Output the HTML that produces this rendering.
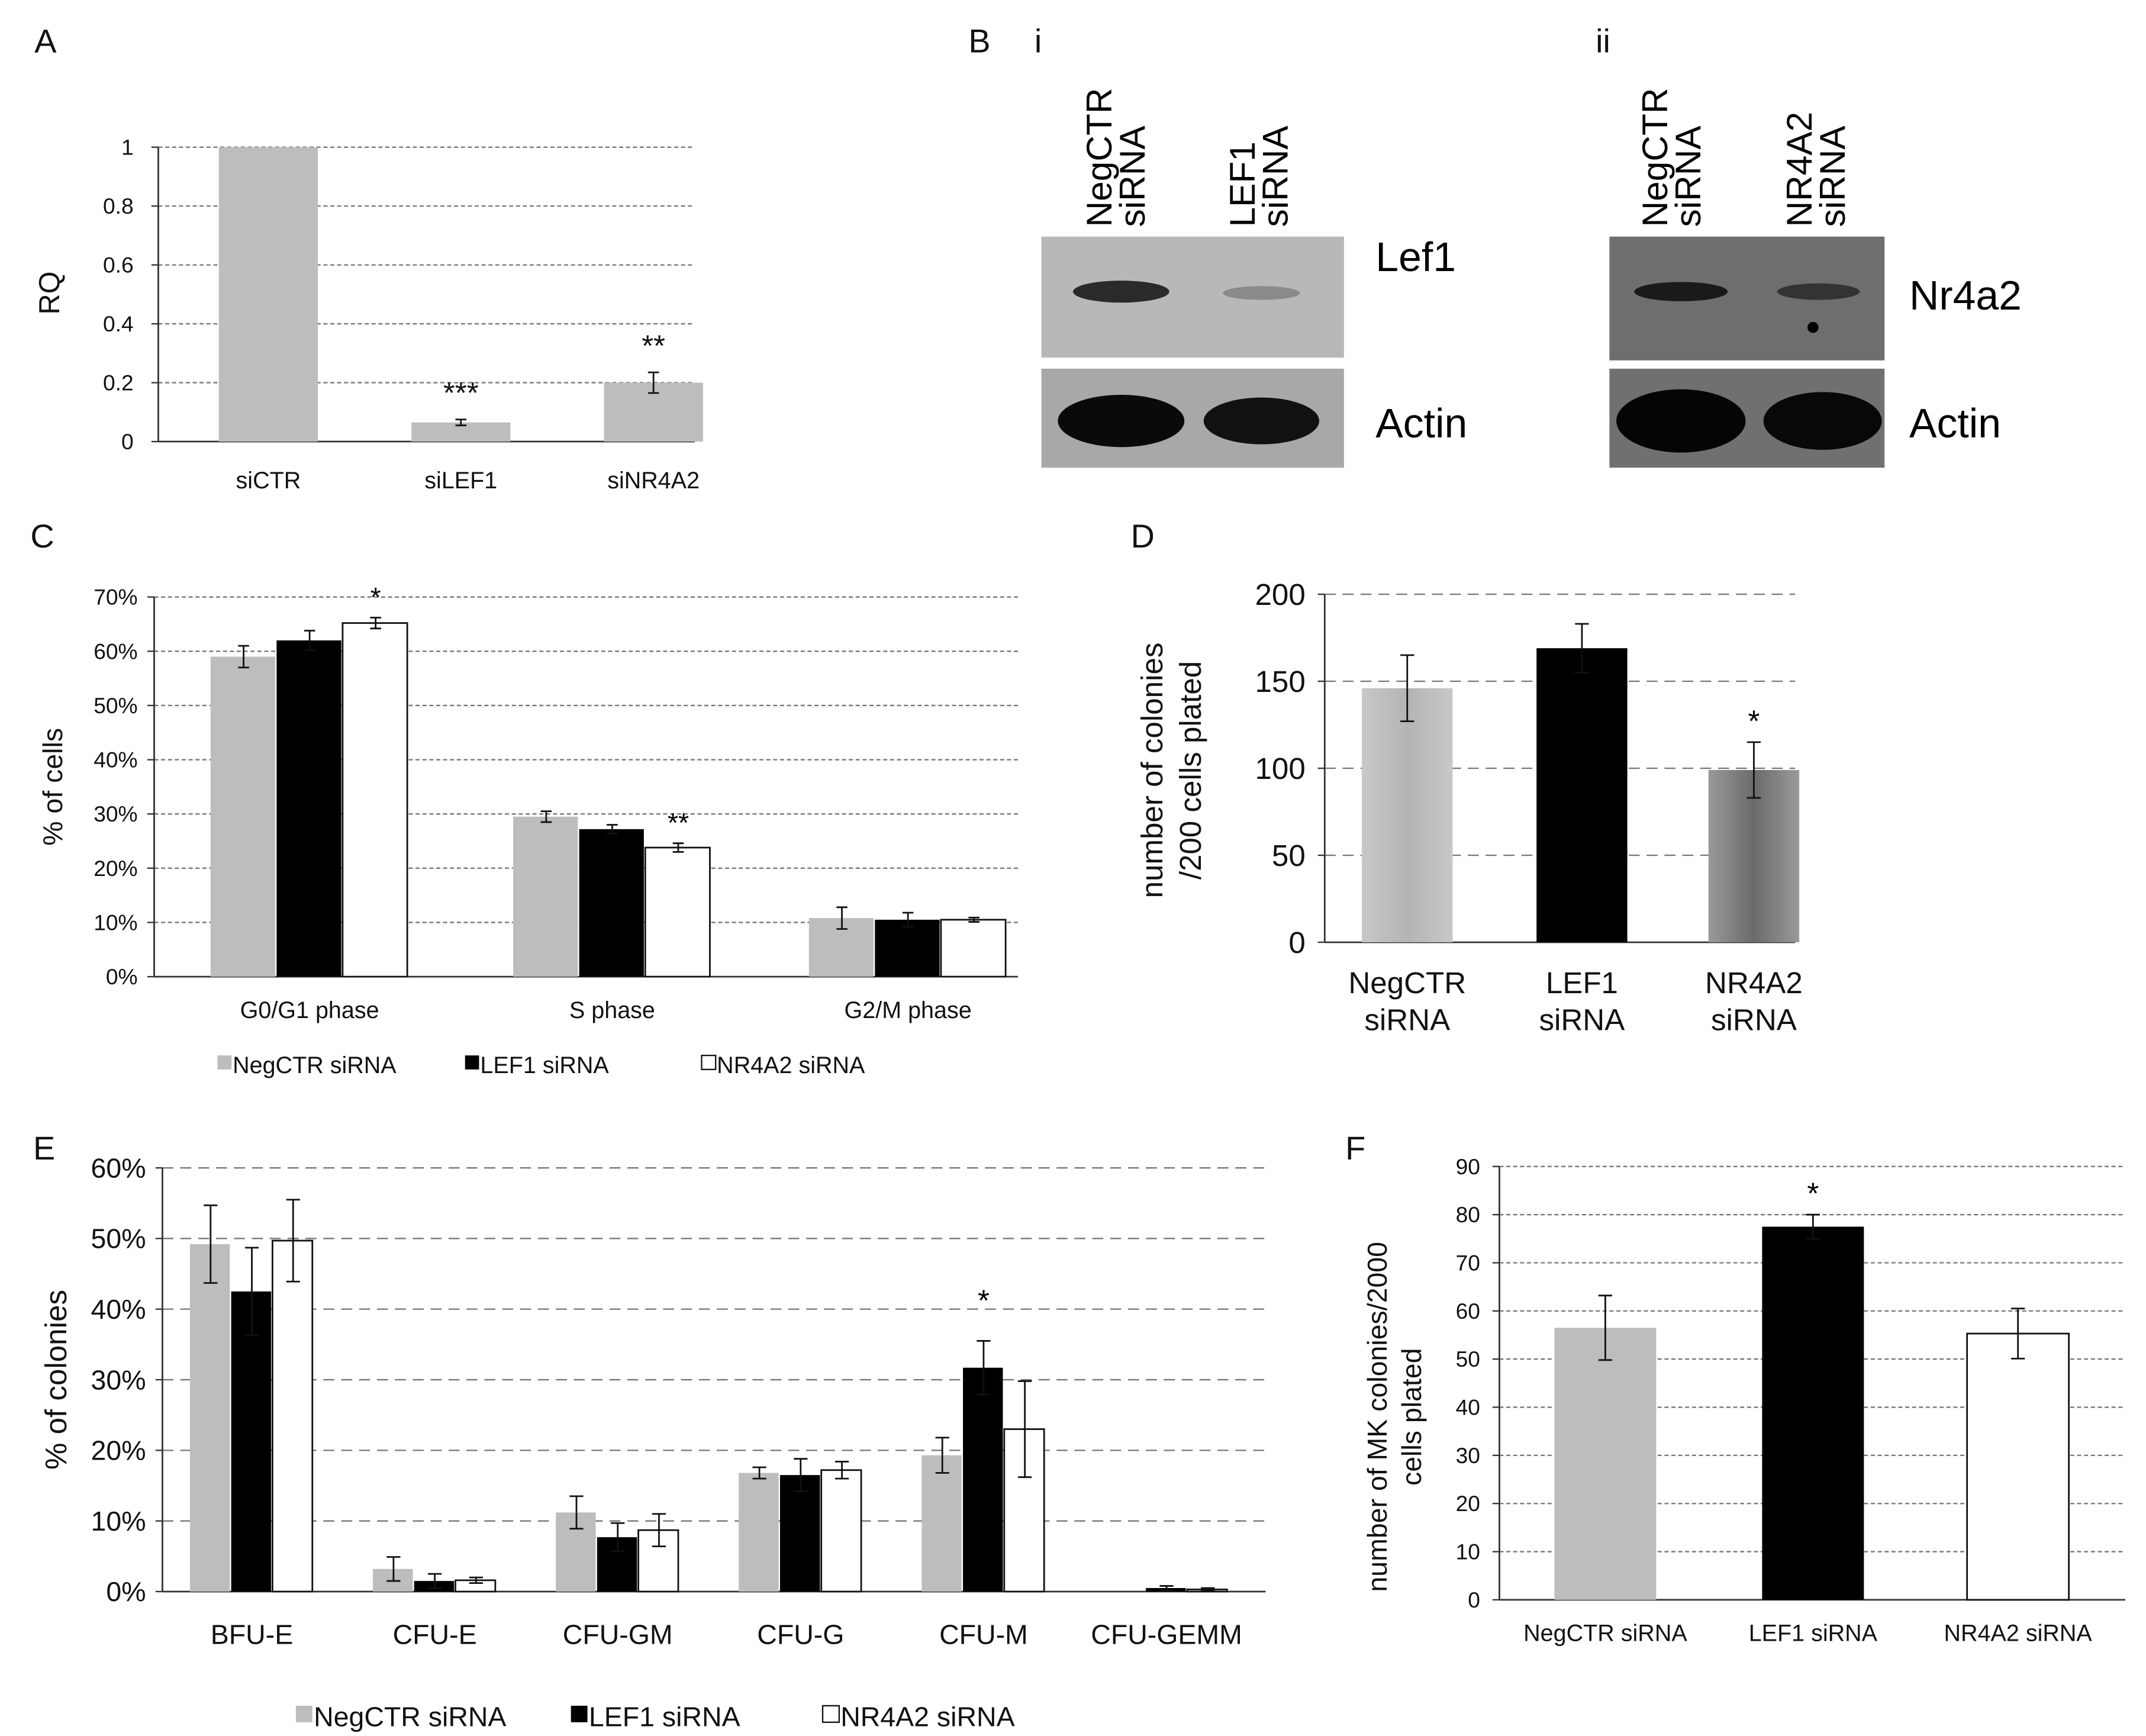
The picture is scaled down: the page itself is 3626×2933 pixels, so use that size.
<!DOCTYPE html>
<html><head><meta charset="utf-8"><style>
body{margin:0;background:#fff}
svg{display:block;font-family:"Liberation Sans",Arial,sans-serif}
</style></head><body>
<svg id="fig" width="3626" height="2933" viewBox="0 0 1560 1262" xmlns="http://www.w3.org/2000/svg">
<defs>
<linearGradient id="gD1" x1="0" x2="1"><stop offset="0" stop-color="#c8c8c8"/><stop offset="0.5" stop-color="#b4b4b4"/><stop offset="1" stop-color="#c8c8c8"/></linearGradient>
<linearGradient id="gD3" x1="0" x2="1"><stop offset="0" stop-color="#9a9a9a"/><stop offset="0.5" stop-color="#6a6a6a"/><stop offset="1" stop-color="#9a9a9a"/></linearGradient>
</defs>
<g font-size="24" fill="#111">
<text x="25" y="38">A</text>
<text x="704" y="38">B</text>
<text x="752" y="38">i</text>
<text x="1160" y="38">ii</text>
<text x="22" y="398">C</text>
<text x="822" y="398">D</text>
<text x="24" y="843">E</text>
<text x="978" y="843">F</text>
</g>
<g>
<rect x="757" y="172" width="220" height="88" fill="#b8b8b8"/>
<ellipse cx="815" cy="212" rx="35" ry="8" fill="#2a2a2a"/>
<ellipse cx="917" cy="213" rx="28" ry="5" fill="#8a8a8a"/>
<rect x="757" y="268" width="220" height="72" fill="#a8a8a8"/>
<ellipse cx="815" cy="306" rx="46" ry="19" fill="#0a0a0a"/>
<ellipse cx="917" cy="306" rx="42" ry="17" fill="#111"/>
<text transform="translate(808,165) rotate(-90)" font-size="26">NegCTR</text>
<text transform="translate(832,165) rotate(-90)" font-size="26">siRNA</text>
<text transform="translate(912,165) rotate(-90)" font-size="26">LEF1</text>
<text transform="translate(936,165) rotate(-90)" font-size="26">siRNA</text>
<text x="1000" y="197" font-size="30">Lef1</text>
<text x="1000" y="318" font-size="30">Actin</text>
</g>
<g>
<rect x="1170" y="172" width="200" height="90" fill="#6e6e6e"/>
<ellipse cx="1222" cy="212" rx="34" ry="7" fill="#1a1a1a"/>
<ellipse cx="1322" cy="212" rx="30" ry="6" fill="#333"/>
<circle cx="1318" cy="238" r="4" fill="#000"/>
<rect x="1170" y="268" width="200" height="72" fill="#707070"/>
<ellipse cx="1222" cy="306" rx="47" ry="23" fill="#050505"/>
<ellipse cx="1325" cy="306" rx="43" ry="21" fill="#080808"/>
<text transform="translate(1212,165) rotate(-90)" font-size="26">NegCTR</text>
<text transform="translate(1236,165) rotate(-90)" font-size="26">siRNA</text>
<text transform="translate(1317,165) rotate(-90)" font-size="26">NR4A2</text>
<text transform="translate(1341,165) rotate(-90)" font-size="26">siRNA</text>
<text x="1388" y="225" font-size="30">Nr4a2</text>
<text x="1388" y="318" font-size="30">Actin</text>
</g>
<g id="charts"></g>
</svg>
<script>
// Panel A data
const aCats=["siCTR","siLEF1","siNR4A2"];
const aVals=[1,0.065,0.2];
const aErr=[0,0.01,0.035];
const aTicks=[0,0.2,0.4,0.6,0.8,1];
const aStars=["","***","**"];
// Panel C data
const cCats=["G0/G1 phase","S phase","G2/M phase"];
const cNeg=[59,29.5,10.8];
const cLef=[62,27.2,10.5];
const cNr=[65.2,23.8,10.5];
const cNegErr=[2,1,2];
const cLefErr=[1.8,0.8,1.3];
const cNrErr=[1,0.8,0.4];
const cTicks=[0,10,20,30,40,50,60,70];
// Panel D data
const dCats=["NegCTR|siRNA","LEF1|siRNA","NR4A2|siRNA"];
const dVals=[146,169,99];
const dErr=[19,14,16];
const dTicks=[0,50,100,150,200];
// Panel E data
const eCats=["BFU-E","CFU-E","CFU-GM","CFU-G","CFU-M","CFU-GEMM"];
const eNeg=[49.2,3.2,11.2,16.8,19.3,0];
const eLef=[42.5,1.5,7.7,16.5,31.7,0.5];
const eNr=[49.7,1.6,8.7,17.2,23,0.3];
const eNegErr=[5.5,1.7,2.3,0.8,2.5,0];
const eLefErr=[6.2,1,2,2.3,3.8,0.3];
const eNrErr=[5.8,0.4,2.3,1.2,6.8,0.2];
const eTicks=[0,10,20,30,40,50,60];
// Panel F data
const fCats=["NegCTR siRNA","LEF1 siRNA","NR4A2 siRNA"];
const fVals=[56.5,77.5,55.3];
const fErr=[6.7,2.5,5.2];
const fTicks=[0,10,20,30,40,50,60,70,80,90];

const NS="http://www.w3.org/2000/svg";
const root=document.getElementById('charts');
function mk(tag,attrs,parent,txt){const e=document.createElementNS(NS,tag);for(const k in attrs)e.setAttribute(k,attrs[k]);if(txt!==undefined)e.textContent=txt;(parent||root).appendChild(e);return e;}
function lin(d0,d1,r0,r1){return v=>r0+(v-d0)*(r1-r0)/(d1-d0);}
function errBar(g,cx,yv,ye,cap){mk('line',{x1:cx,x2:cx,y1:yv,y2:ye[1],stroke:'#111','stroke-width':1.2},g);mk('line',{x1:cx,x2:cx,y1:yv,y2:ye[0],stroke:'#111','stroke-width':1.2},g);
 mk('line',{x1:cx-cap,x2:cx+cap,y1:ye[0],y2:ye[0],stroke:'#111','stroke-width':1.2},g);mk('line',{x1:cx-cap,x2:cx+cap,y1:ye[1],y2:ye[1],stroke:'#111','stroke-width':1.2},g);}
function axes(g,x0,x1,y,ticks,fmt,fs,dash,tx){
 ticks.forEach(t=>{const yy=y(t);
  if(t!==ticks[0]){const gl=mk('line',{x1:x0,x2:x1,y1:yy,y2:yy,stroke:'#777','stroke-width':1,'stroke-dasharray':dash},g);}
  mk('line',{x1:x0-5,x2:x0,y1:yy,y2:yy,stroke:'#333'},g);
  const l=mk('text',{x:x0-(tx||10),y:yy+fs*0.35,'text-anchor':'end','font-size':fs,fill:'#111'},g,fmt(t));
  });
 mk('line',{x1:x0,x2:x0,y1:y(ticks[0]),y2:y(ticks[ticks.length-1]),stroke:'#333','stroke-width':1.2},g);
 mk('line',{x1:x0,x2:x1,y1:y(ticks[0]),y2:y(ticks[0]),stroke:'#333','stroke-width':1.2},g);
}
function legend(g,x,y,fs,items){items.forEach(it=>{const r=mk('rect',{x:it[0],y:y-fs*0.75,width:fs*0.6,height:fs*0.6,fill:it[1],stroke:'#111','stroke-width':it[1]=='#fff'?1:0},g);
 
 const t=mk('text',{x:it[0]+fs*0.65,y:y,'font-size':fs,fill:'#111'},g,it[2]);});}

(function(){const g=mk('g',{});
 const y=lin(0,1,321,107);axes(g,115,505,y,aTicks,v=>String(v),16,'3,2',18);
 const xs=[195,335,475];
 aCats.forEach((c,i)=>{const b=mk('rect',{x:xs[i]-36,y:y(aVals[i]),width:72,height:y(0)-y(aVals[i]),fill:'#bdbdbd'},g);
  
  if(aErr[i])errBar(g,xs[i],y(aVals[i]),[y(aVals[i]+aErr[i]),y(aVals[i]-aErr[i])],4);
  const l=mk('text',{x:xs[i],y:355,'text-anchor':'middle','font-size':17,fill:'#111'},g,c);
  if(aStars[i])mk('text',{x:xs[i],y:y(aVals[i]+aErr[i])-12,'text-anchor':'middle','font-size':22,fill:'#111'},g,aStars[i]);});
 const t=mk('text',{transform:'translate(43,213) rotate(-90)','text-anchor':'middle','font-size':21,fill:'#111'},g,'RQ');
})();
(function(){const g=mk('g',{});
 const y=lin(0,70,710,434);axes(g,112,740,y,cTicks,v=>v+'%',16,'3,2',12);
 const xs=[225,445,660],w=48;const series=[[cNeg,cNegErr,'#bdbdbd'],[cLef,cLefErr,'#000'],[cNr,cNrErr,'#fff']];
 cCats.forEach((c,i)=>{series.forEach((s,j)=>{const x=xs[i]-72+j*w;const b=mk('rect',{x:x,y:y(s[0][i]),width:w-1,height:y(0)-y(s[0][i]),fill:s[2],stroke:j==2?'#111':'none','stroke-width':1.2},g);
  
  errBar(g,x+w/2,y(s[0][i]),[y(s[0][i]+s[1][i]),y(s[0][i]-s[1][i])],4);});
  const l=mk('text',{x:xs[i],y:740,'text-anchor':'middle','font-size':17,fill:'#111'},g,c);});
 mk('text',{x:xs[0]+48,y:y(cNr[0]+cNrErr[0])-8,'text-anchor':'middle','font-size':20},g,'*');
 mk('text',{x:xs[1]+48,y:y(cNr[1]+cNrErr[1])-8,'text-anchor':'middle','font-size':20},g,'**');
 const t=mk('text',{transform:'translate(45,572) rotate(-90)','text-anchor':'middle','font-size':20,fill:'#111'},g,'% of cells');
 legend(g,0,780,17,[[158,'#bdbdbd','NegCTR siRNA'],[338,'#000','LEF1 siRNA'],[510,'#fff','NR4A2 siRNA']]);
})();
(function(){const g=mk('g',{});
 const y=lin(0,200,685,432);axes(g,963,1305,y,dTicks,v=>String(v),22,'8,5',14);
 const xs=[1023,1150,1275],fills=['url(#gD1)','#000','url(#gD3)'];
 dCats.forEach((c,i)=>{const b=mk('rect',{x:xs[i]-33,y:y(dVals[i]),width:66,height:y(0)-y(dVals[i]),fill:fills[i]},g);
  
  errBar(g,xs[i],y(dVals[i]),[y(dVals[i]+dErr[i]),y(dVals[i]-dErr[i])],5);
  c.split('|').forEach((p,k)=>{const l=mk('text',{x:xs[i],y:722+k*27,'text-anchor':'middle','font-size':22,fill:'#111'},g,p);});});
 mk('text',{x:xs[2],y:y(dVals[2]+dErr[2])-8,'text-anchor':'middle','font-size':22},g,'*');
 const t=mk('text',{transform:'translate(845,560) rotate(-90)','text-anchor':'middle','font-size':22,fill:'#111'},g,'number of colonies');
 mk('text',{transform:'translate(873,560) rotate(-90)','text-anchor':'middle','font-size':22,fill:'#111'},g,'/200 cells plated');
})();
(function(){const g=mk('g',{});
 const y=lin(0,60,1157,849);axes(g,118,920,y,eTicks,v=>v+'%',20,'8,5',12);
 const x0=183,step=133,w=30;const series=[[eNeg,eNegErr,'#bdbdbd'],[eLef,eLefErr,'#000'],[eNr,eNrErr,'#fff']];
 eCats.forEach((c,i)=>{const cx=x0+i*step;series.forEach((s,j)=>{const x=cx-45+j*w;if(s[0][i]>0){const b=mk('rect',{x:x,y:y(s[0][i]),width:w-1,height:y(0)-y(s[0][i]),fill:s[2],stroke:j==2?'#111':'none','stroke-width':1.2},g);
  }
  if(s[1][i])errBar(g,x+w/2,y(s[0][i]),[y(s[0][i]+s[1][i]),y(Math.max(0,s[0][i]-s[1][i]))],5);});
  const l=mk('text',{x:cx,y:1195,'text-anchor':'middle','font-size':20,fill:'#111'},g,c);});
 mk('text',{x:x0+4*step,y:y(eLef[4]+eLefErr[4])-22,'text-anchor':'middle','font-size':22},g,'*');
 const t=mk('text',{transform:'translate(48,1003) rotate(-90)','text-anchor':'middle','font-size':22,fill:'#111'},g,'% of colonies');
 legend(g,0,1255,20,[[215,'#bdbdbd','NegCTR siRNA'],[415,'#000','LEF1 siRNA'],[598,'#fff','NR4A2 siRNA']]);
})();
(function(){const g=mk('g',{});
 const y=lin(0,90,1163,848);axes(g,1090,1545,y,fTicks,v=>String(v),16,'3,2',14);
 const xs=[1167,1318,1467],fills=['#bdbdbd','#000','#fff'];
 fCats.forEach((c,i)=>{const b=mk('rect',{x:xs[i]-37,y:y(fVals[i]),width:74,height:y(0)-y(fVals[i]),fill:fills[i],stroke:i==2?'#111':'none','stroke-width':1.2},g);
  
  errBar(g,xs[i],y(fVals[i]),[y(fVals[i]+fErr[i]),y(fVals[i]-fErr[i])],5);
  const l=mk('text',{x:xs[i],y:1193,'text-anchor':'middle','font-size':17,fill:'#111'},g,c);});
 mk('text',{x:xs[1],y:y(fVals[1]+fErr[1])-8,'text-anchor':'middle','font-size':22},g,'*');
 const t=mk('text',{transform:'translate(1008,1030) rotate(-90)','text-anchor':'middle','font-size':20,fill:'#111'},g,'number of MK colonies/2000');
 mk('text',{transform:'translate(1033,1030) rotate(-90)','text-anchor':'middle','font-size':20,fill:'#111'},g,'cells plated');
})();
</script>
</body></html>
